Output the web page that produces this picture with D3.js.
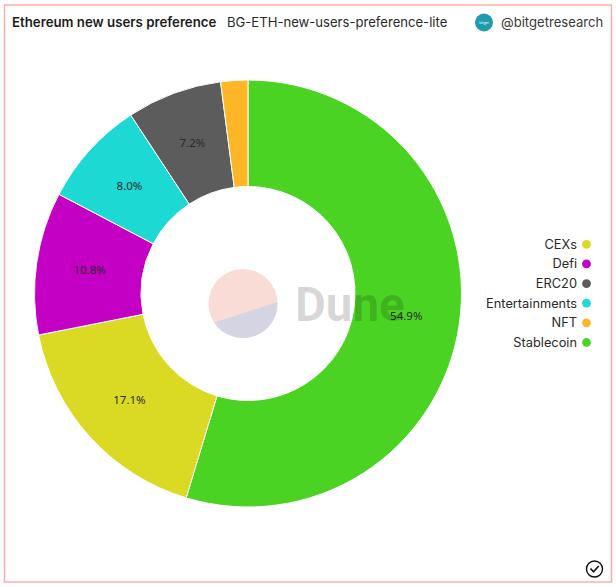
<!DOCTYPE html>
<html>
<head>
<meta charset="utf-8">
<script src="https://cdn.jsdelivr.net/npm/d3@7"></script>
<style>
  html, body { margin: 0; padding: 0; background: #fff; }
  text { font-family: "Inter", "Noto Sans", sans-serif; }
</style>
</head>
<body>
<div class="chart"></div>
<script>
var svgWidth = 616;
var svgHeight = 587;

// slices run clockwise from 12 o'clock
var sliceNames = ["Stablecoin", "CEXs", "Defi", "Entertainments", "ERC20", "NFT"];
// measured from the slice edges, the printed labels round a bit differently
var sliceValues = [54.65, 17.2, 10.8, 8.05, 7.2, 2.05];
var sliceColors = ["#4bd324", "#dada24", "#c400c4", "#1cd9d4", "#5c5c5c", "#fdb625"];
var sliceLabels = ["54.9%", "17.1%", "10.8%", "8.0%", "7.2%", ""];

// legend has its own order
var legendNames = ["CEXs", "Defi", "ERC20", "Entertainments", "NFT", "Stablecoin"];

var svg = d3.select(".chart")
  .append("svg")
  .attr("width", svgWidth)
  .attr("height", svgHeight)
  .style("display", "block");

// card border
svg.append("rect")
  .attr("x", 4.5)
  .attr("y", 5)
  .attr("width", 607)
  .attr("height", 577)
  .attr("fill", "#fff")
  .attr("stroke", "#fdaaa6")
  .attr("stroke-width", 1.4);

// header
svg.append("text")
  .attr("x", 12)
  .attr("y", 27)
  .attr("font-size", 13.25)
  .attr("font-weight", 600)
  .attr("fill", "#1c1c1c")
  .text("Ethereum new users preference");

svg.append("text")
  .attr("x", 227)
  .attr("y", 27)
  .attr("font-size", 13.1)
  .attr("fill", "#2a2a2a")
  .text("BG-ETH-new-users-preference-lite");

svg.append("circle")
  .attr("cx", 484)
  .attr("cy", 22.5)
  .attr("r", 9)
  .attr("fill", "#1f9bad");

svg.append("text")
  .attr("x", 484)
  .attr("y", 24)
  .attr("text-anchor", "middle")
  .attr("font-size", 3.5)
  .attr("fill", "#fff")
  .text("bitget");

svg.append("text")
  .attr("x", 501)
  .attr("y", 27)
  .attr("font-size", 13.1)
  .attr("fill", "#3a3a3a")
  .text("@bitgetresearch");

// donut
var pieGroup = svg.append("g")
  .attr("transform", "translate(248, 293.5)");

var pie = d3.pie()
  .value(d => d)
  .sort(null);

var arc = d3.arc()
  .innerRadius(107)
  .outerRadius(213.5);

var labelArc = d3.arc()
  .innerRadius(160)
  .outerRadius(160);

var slices = pie(sliceValues);

pieGroup.selectAll("path")
  .data(slices)
  .enter()
  .append("path")
  .attr("d", arc)
  .attr("fill", (d, i) => sliceColors[i])
  .attr("stroke", "#fff")
  .attr("stroke-width", 1);

pieGroup.selectAll("text")
  .data(slices)
  .enter()
  .append("text")
  .attr("transform", d => `translate(${labelArc.centroid(d)})`)
  .attr("text-anchor", "middle")
  .attr("dy", "0.3em")
  .attr("font-size", 11.5)
  .style("font-family", "'Noto Sans', sans-serif")
  .attr("fill", "#2a2a2a")
  .text((d, i) => sliceLabels[i]);

// Dune watermark sits on top of the chart
var markGroup = svg.append("g")
  .attr("transform", "translate(243, 303.5)");

markGroup.append("circle")
  .attr("r", 34.5)
  .attr("fill", "#fadcd6");

// lower part of the logo is a chord, not a half circle
var chord = d3.path();
chord.arc(0, 0, 34.5, -0.04, 2.56);
chord.closePath();

markGroup.append("path")
  .attr("d", chord.toString())
  .attr("fill", "#d5d4e2");

svg.append("text")
  .attr("x", 295)
  .attr("y", 320.5)
  .attr("font-size", 47.5)
  .attr("font-weight", 700)
  .style("font-family", "Roboto, sans-serif")
  .attr("fill", "#000")
  .attr("fill-opacity", 0.16)
  .text("Dune");

// legend
var legendY = d3.scalePoint()
  .domain(legendNames)
  .range([244.3, 342.5]);

var legendColor = d3.scaleOrdinal()
  .domain(sliceNames)
  .range(sliceColors);

var legend = svg.selectAll(".legend")
  .data(legendNames)
  .enter()
  .append("g")
  .classed("legend", true)
  .attr("transform", d => `translate(0, ${legendY(d)})`);

legend.append("circle")
  .attr("cx", 586.5)
  .attr("r", 4.4)
  .attr("fill", d => legendColor(d));

legend.append("text")
  .attr("x", 577)
  .attr("dy", "0.35em")
  .attr("text-anchor", "end")
  .attr("font-size", 12.8)
  .attr("fill", "#2a2a2a")
  .text(d => d);

// check badge, bottom right
var badge = svg.append("g")
  .attr("transform", "translate(594.5, 569)");

badge.append("circle")
  .attr("r", 8)
  .attr("fill", "none")
  .attr("stroke", "#111")
  .attr("stroke-width", 1.4);

badge.append("path")
  .attr("d", "M-4,-0.5L-1,2.8L4.2,-3")
  .attr("fill", "none")
  .attr("stroke", "#111")
  .attr("stroke-width", 1.6);
</script>
</body>
</html>
